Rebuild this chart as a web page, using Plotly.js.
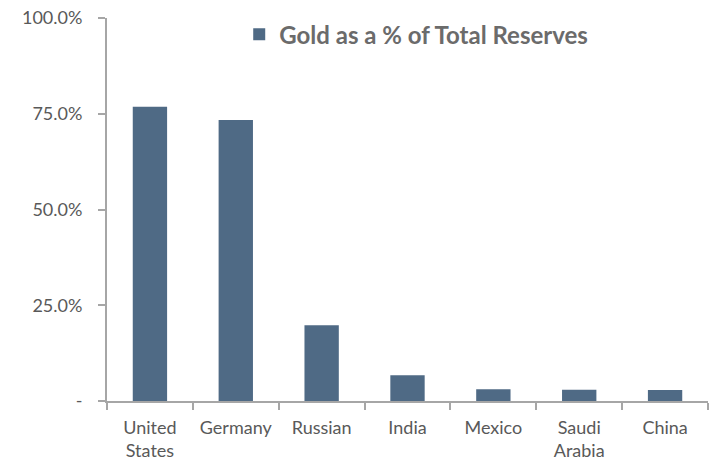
<!DOCTYPE html>
<html>
<head>
<meta charset="utf-8">
<script src="https://cdn.plot.ly/plotly-3.0.1.min.js"></script>
<style>html,body{margin:0;padding:0;background:#fff;}#chart{width:717px;height:462px;}</style>
</head>
<body>
<div id="chart"></div>
<script>
const categories = ["United<br>States", "Germany", "Russian", "India", "Mexico", "Saudi<br>Arabia", "China"];
const goldPct = [76.8, 73.4, 19.8, 6.7, 3.1, 2.95, 2.9];
const seriesName = "Gold as a % of Total Reserves";
const yTickVals = [0, 25, 50, 75, 100];
const yTickText = ["-", "25.0%", "50.0%", "75.0%", "100.0%"];

const trace = {
  type: "bar",
  x: categories,
  y: goldPct,
  name: seriesName,
  marker: {color: "#4F6A85"},
  showlegend: true,
  hoverinfo: "x+y"
};

const layout = {
  width: 717, height: 462,
  margin: {l: 107, r: 9, t: 18, b: 61},
  paper_bgcolor: "#fff", plot_bgcolor: "#fff",
  font: {family: "Lato, 'Open Sans', sans-serif", size: 18, color: "#595959"},
  bargap: 0.6,
  showlegend: true,
  legend: {
    x: 0.22, y: 1.015, xanchor: "left", yanchor: "top",
    font: {size: 24, color: "#6b6b6b", family: "Lato, sans-serif", weight: "bold"},
    bgcolor: "rgba(0,0,0,0)", itemwidth: 30
  },
  xaxis: {
    showline: true, linecolor: "#A6A6A6", linewidth: 2,
    ticks: "outside", ticklen: 7, tickcolor: "#A6A6A6", tickwidth: 2,
    tickson: "boundaries", showgrid: false, zeroline: false,
    ticklabelstandoff: 9,
    tickfont: {size: 18, color: "#595959"}
  },
  yaxis: {
    range: [0, 100], showline: true, linecolor: "#A6A6A6", linewidth: 2,
    ticks: "outside", ticklen: 7, tickcolor: "#A6A6A6", tickwidth: 2,
    tickvals: yTickVals, ticktext: yTickText,
    showgrid: false, zeroline: false, ticklabelstandoff: 12,
    tickfont: {size: 18, color: "#595959"}
  }
};

Plotly.newPlot("chart", [trace], layout, {displayModeBar: false, staticPlot: true});
</script>
</body>
</html>
